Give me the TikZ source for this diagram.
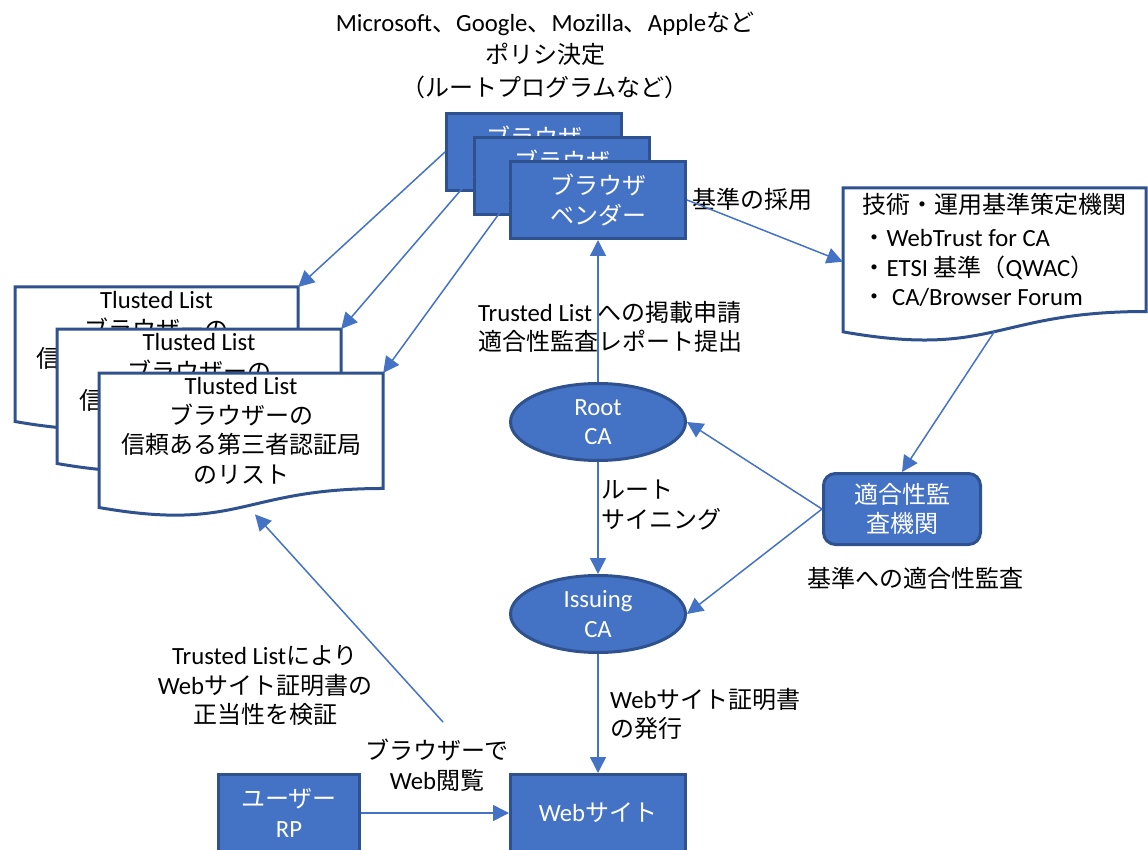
\documentclass[tikz,border=0pt]{standalone}
\usepackage{fontspec}
\setmainfont[Scale=1.03]{Carlito}
\newfontfamily\jp{Noto Sans CJK JP}
\usetikzlibrary{arrows.meta,shapes.geometric,calc}
\definecolor{ofblue}{HTML}{4472C4}
\definecolor{ofdark}{HTML}{2F528F}
% document outline with wavy bottom: x, y, width, height
\newcommand\docframe[4]{%
  \pgfmathsetmacro\xr{#1+#3}\pgfmathsetmacro\xm{#1+0.5*#3}%
  \pgfmathsetmacro\yr{#2+0.802*#4}\pgfmathsetmacro\yl{#2+0.934*#4}\pgfmathsetmacro\yc{#2+1.107*#4}%
  \filldraw[docline] (#1,#2) -- (\xr,#2) -- (\xr,\yr) .. controls (\xm,\yr) and (\xm,\yc) .. (#1,\yl) -- cycle;}

\tikzset{
  every node/.style={font=\fontsize{24}{29.5}\selectfont},
  vendor/.style={rectangle, draw=ofdark, fill=ofblue, line width=3pt, text=white, align=center, minimum width=175, minimum height=77},
  ca/.style={ellipse, draw=ofdark, fill=ofblue, line width=3pt, text=white, align=center, minimum width=175, minimum height=77, inner sep=0pt},
  listtext/.style={rectangle, align=center, inner sep=0pt, anchor=north},
  docline/.style={draw=ofdark, fill=white, line width=3pt},
  link/.style={draw=ofblue, line width=1.5pt, -{Triangle[length=16pt,width=16pt]}},
  lbl/.style={align=center, inner sep=1pt},
}

\begin{document}
\begin{tikzpicture}[x=1pt, y=-1pt]
	\useasboundingbox (0,0) rectangle (1148,850);
	
	% policy makers
	\node[lbl, font=\fontsize{24}{32.5}\selectfont] (policy) at (545,55) {Microsoft{\jp 、}Google{\jp 、}Mozilla{\jp 、}Apple{\jp など}\\{\jp ポリシ決定}\\{\jp （ルートプログラムなど）}};
	
	\node[vendor] (bv1) at (534,152) {{\jp ブラウザ}\\{\jp ベンダー}};
	\node[vendor] (bv2) at (562,176) {{\jp ブラウザ}\\{\jp ベンダー}};
	\node[vendor] (bv3) at (598,200) {{\jp ブラウザ}\\{\jp ベンダー}};
	
	% trusted lists
	\docframe{15}{287}{283}{144}
	\node[listtext, minimum width=283, minimum height=115] (tl1) at (156.5,287) {Tlusted List\\{\jp ブラウザーの}\\{\jp 信頼ある第三者認証局}\\{\jp のリスト}};
	\docframe{57}{329}{284}{144}
	\node[listtext, minimum width=284, minimum height=115] (tl2) at (199,329) {Tlusted List\\{\jp ブラウザーの}\\{\jp 信頼ある第三者認証局}\\{\jp のリスト}};
	\docframe{99}{373}{284}{144}
	\node[listtext, minimum width=284, minimum height=115] (tl3) at (241,373) {Tlusted List\\{\jp ブラウザーの}\\{\jp 信頼ある第三者認証局}\\{\jp のリスト}};
	
	% standards bodies
	\docframe{843}{188}{303}{154}
	\node[listtext, align=left, minimum width=303, minimum height=123] (tech) at (994.5,188) {{\jp 技術・運用基準策定機関}\\[4pt]{\jp ・}WebTrust for CA\\{\jp ・}ETSI {\jp 基準（}QWAC{\jp ）}\\{\jp ・} CA/Browser Forum};
	
	\node[ca] (root) at (598,422) {Root\\CA};
	\node[ca] (issuing) at (598,614) {Issuing\\CA};
	\node[vendor, rounded corners=12pt, minimum width=157, minimum height=71] (audit) at (902,509) {{\jp 適合性監}\\{\jp 査機関}};
	\node[vendor, minimum width=141] (user) at (289,813) {{\jp ユーザー}\\RP};
	\node[vendor] (web) at (598,813) {Web{\jp サイト}};
	
	% labels
	\node[lbl] (adopt) at (752,199) {\jp 基準の採用};
	\node[lbl] (apply) at (610,327) {Trusted List {\jp への掲載申請}\\{\jp 適合性監査レポート提出}};
	\node[lbl, anchor=west, align=left] (sign) at (600,505) {{\jp ルート}\\{\jp サイニング}};
	\node[lbl] (audittxt) at (915,578) {\jp 基準への適合性監査};
	\node[lbl, anchor=west, align=left] (issue) at (609,714) {Web{\jp サイト証明書}\\{\jp の発行}};
	\node[lbl] (browse) at (437,765) {{\jp ブラウザーで}\\Web{\jp 閲覧}};
	\node[lbl] (verify) at (265,686) {Trusted List{\jp により}\\Web{\jp サイト証明書の}\\{\jp 正当性を検証}};
	
	\coordinate (vstart) at (443,722);
	
	% connectors
	\draw[link] (bv1.west) -- (tl1.north east);
	\draw[link] (bv2.west) -- (tl2.north east);
	\draw[link] (bv3.west) -- (tl3.north east);
	\draw[link] (bv3.east) -- ([yshift=-12pt]tech.west);
	\draw[link] (root) -- (bv3);
	\draw[link] ([yshift=-20pt]tech.south) -- (audit.north);
	\draw[link] (audit.west) -- (root.east);
	\draw[link] (audit.west) -- (issuing.east);
	\draw[link] (root) -- (issuing);
	\draw[link] (issuing) -- (web);
	\draw[link] (user) -- (web);
	\draw[link] (vstart) -- ([shift={(14pt,-26pt)}]tl3.south);
	
\end{tikzpicture}
\end{document}
